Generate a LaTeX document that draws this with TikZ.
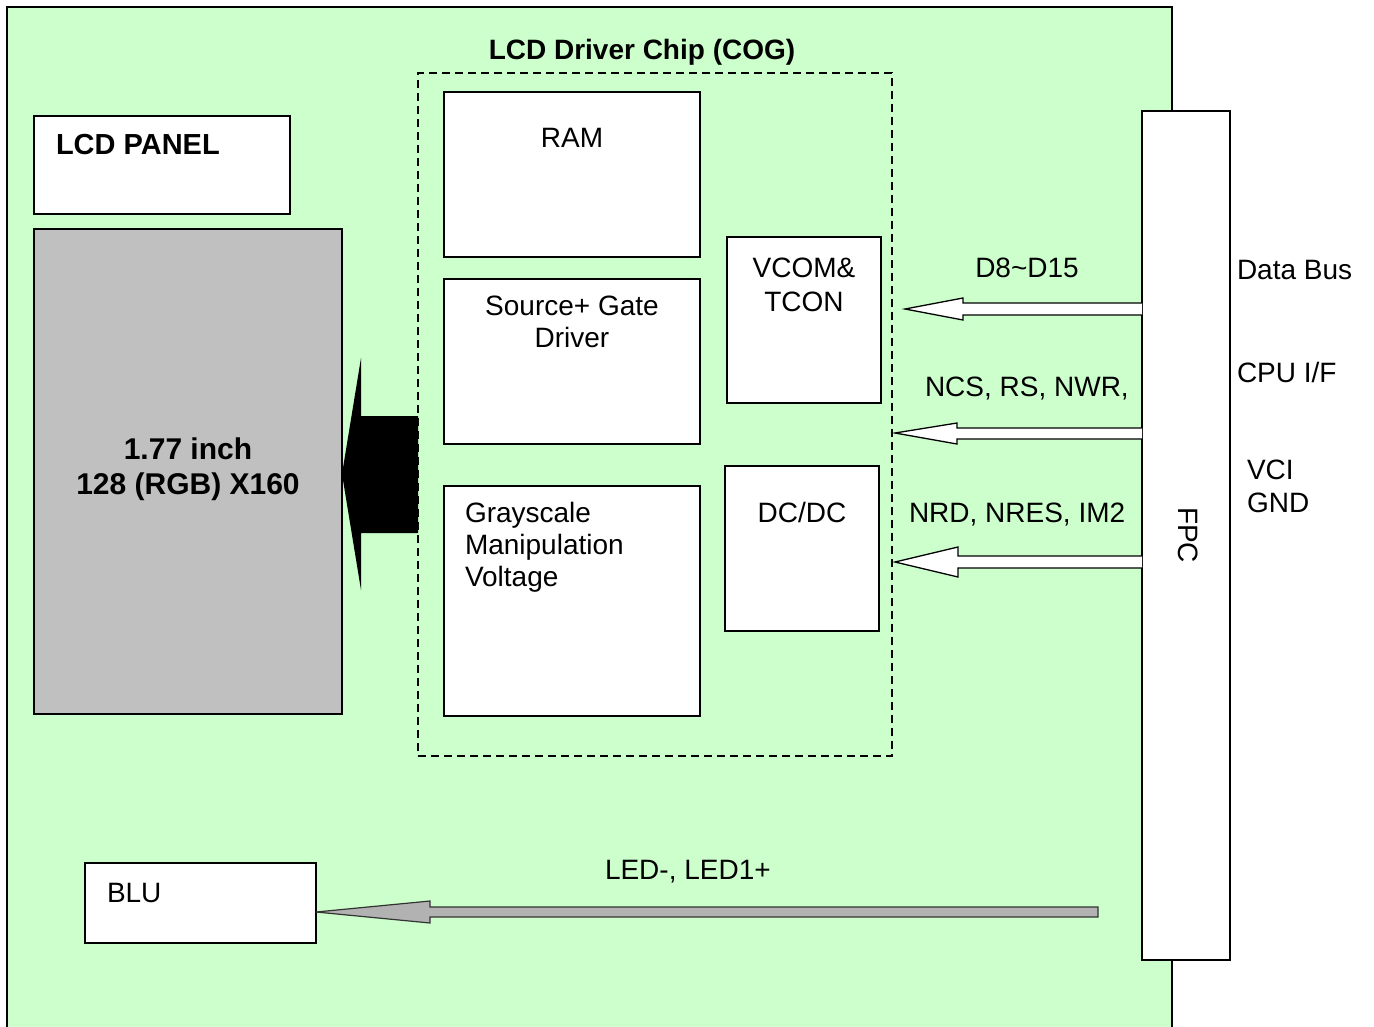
\documentclass[tikz,border=0pt]{standalone}
\usepackage{fontspec}
\setmainfont{Liberation Sans}
\definecolor{boardgreen}{HTML}{CCFFCC}
\definecolor{panelgray}{HTML}{C0C0C0}
\definecolor{arrowgray}{HTML}{B2B2B2}
\begin{document}
\begin{tikzpicture}[x=1pt,y=-1pt,
  box/.style={draw=black, line width=1.6pt, fill=white, inner sep=0pt, outer sep=0pt, anchor=north west},
  lbl/.style={font=\fontsize{28}{32}\selectfont, inner sep=0pt, outer sep=0pt, anchor=base west},
  clbl/.style={lbl, anchor=base},
  blbl/.style={font=\fontsize{30}{35}\selectfont\bfseries, inner sep=0pt, outer sep=0pt, anchor=base},
  hollow/.style={draw=black, line width=1.3pt, fill=white, line join=miter},
]
\useasboundingbox (0,0) rectangle (1374,1026);
\clip (0,0) rectangle (1374,1026);
% board
\fill[boardgreen] (7,7) rectangle (1172,1040);
\draw[line width=2pt] (7,1040) -- (7,7) -- (1172,7) -- (1172,1040);

% LCD panel
\node[box, minimum width=256pt, minimum height=98pt] (lcdp) at (34,116) {};
\node[lbl, font=\fontsize{29}{32}\selectfont\bfseries] (lcdpt) at (56,154) {LCD PANEL};
\node[box, fill=panelgray, minimum width=308pt, minimum height=485pt] (panel) at (34,229) {};
\node[blbl] (size1) at (188,459) {1.77 inch};
\node[blbl] (size2) at (188,494) {128 (RGB) X160};

% driver chip
\node[draw=black, line width=1.5pt, dash pattern=on 8pt off 5pt, inner sep=0pt, outer sep=0pt, anchor=north west,
      minimum width=474pt, minimum height=683pt] (cog) at (418,73) {};
\node[clbl, font=\fontsize{28}{32}\selectfont\bfseries] (cogt) at (642,59) {LCD Driver Chip (COG)};

\node[box, minimum width=256pt, minimum height=165pt] (ram) at (444,92) {};
\node[clbl] (ramt) at (572,147) {RAM};
\node[box, minimum width=256pt, minimum height=165pt] (sgd) at (444,279) {};
\node[clbl] (sgdt1) at (572,315) {Source+ Gate};
\node[clbl] (sgdt2) at (572,347) {Driver};
\node[box, minimum width=256pt, minimum height=230pt] (gmv) at (444,486) {};
\node[lbl] (gmvt1) at (465,522) {Grayscale};
\node[lbl] (gmvt2) at (465,554) {Manipulation};
\node[lbl] (gmvt3) at (465,586) {Voltage};
\node[box, minimum width=154pt, minimum height=166pt] (vcom) at (727,237) {};
\node[clbl] (vcomt1) at (804,277) {VCOM\&};
\node[clbl] (vcomt2) at (804,311) {TCON};
\node[box, minimum width=154pt, minimum height=165pt] (dcdc) at (725,466) {};
\node[clbl] (dcdct) at (802,522) {DC/DC};

% FPC
\node[box, minimum width=88pt, minimum height=849pt] (fpc) at (1142,111) {};
\node[font=\fontsize{28}{32}\selectfont, inner sep=0pt, rotate=-90] (fpct) at (1188,535) {FPC};
\node[lbl] (dbus) at (1237,279) {Data Bus};
\node[lbl] (cpuif) at (1237,382) {CPU I/F};
\node[lbl] (vci) at (1247,479) {VCI};
\node[lbl] (gnd) at (1247,512) {GND};

% signal labels
\node[clbl] (d815) at (1027,277) {D8\textasciitilde D15};
\node[lbl] (ncs) at (925,396) {NCS, RS, NWR,};
\node[lbl] (nrd) at (909,522) {NRD, NRES, IM2};
\node[lbl] (led) at (605,879) {LED-, LED1+};

% BLU
\node[box, line width=1.3pt, minimum width=231pt, minimum height=80pt] (blu) at (85,863) {};
\node[lbl] (blut) at (107,902) {BLU};

% big black arrow into panel
\fill[black] (cog.west |- 0,416) -- (361,416) -- (361,358) -- (panel.east |- 0,474)
  -- (361,590) -- (361,533) -- (cog.west |- 0,533) -- cycle;

% hollow arrows from FPC
\draw[hollow] (fpc.west |- 0,303) -- (963,303) -- (963,298) -- (905,309) -- (963,320) -- (963,315) -- (fpc.west |- 0,315);
\draw[hollow] (fpc.west |- 0,428) -- (957,428) -- (957,423) -- (895,433) -- (957,444) -- (957,439) -- (fpc.west |- 0,439);
\draw[hollow] (fpc.west |- 0,556) -- (958,556) -- (958,547) -- (895,562) -- (958,577) -- (958,568) -- (fpc.west |- 0,568);

% gray arrow to BLU
\draw[draw=black!80, line width=1.2pt, fill=arrowgray, line join=miter]
  (1098,907) -- (430,907) -- (430,901) -- (blu.east |- 0,912) -- (430,923) -- (430,917) -- (1098,917) -- cycle;
\end{tikzpicture}
\end{document}
